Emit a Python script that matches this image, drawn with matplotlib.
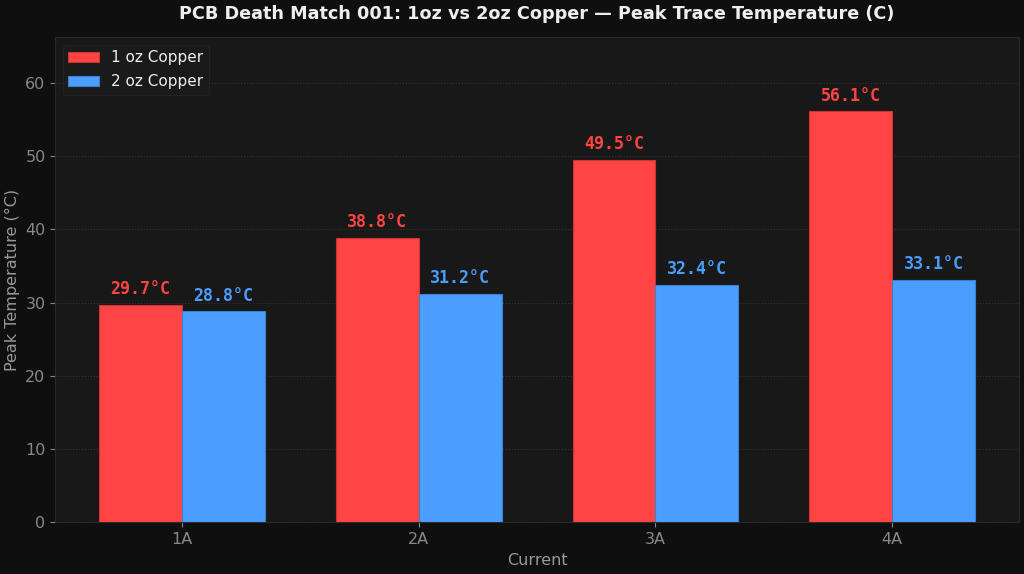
import numpy as np
import matplotlib
matplotlib.use("Agg")
from matplotlib import pyplot as plt

currents = ["1A", "2A", "3A", "4A"]
temp_1oz = [29.7, 38.8, 49.5, 56.1]
temp_2oz = [28.8, 31.2, 32.4, 33.1]

red = "#ff4444"
blue = "#4a9eff"

fig = plt.figure(figsize=(10.24, 5.74), dpi=100, facecolor="#0f0f0f")
ax = fig.add_axes([0.054, 0.09, 0.941, 0.845])
ax.set_facecolor("#181818")

x = np.arange(len(currents))
w = 0.35
b1 = ax.bar(x - w / 2, temp_1oz, w, color=red, edgecolor="#cc3333", linewidth=0.8, label="1 oz Copper", zorder=3)
b2 = ax.bar(x + w / 2, temp_2oz, w, color=blue, edgecolor="#3a80cc", linewidth=0.8, label="2 oz Copper", zorder=3)

# value labels above each bar
for bars, col in ((b1, red), (b2, blue)):
    for b in bars:
        h = b.get_height()
        ax.text(b.get_x() + b.get_width() / 2, h + 0.9, f"{h:.1f}°C", ha="center", va="bottom",
                color=col, fontsize=12, fontweight="bold", family="DejaVu Sans Mono")

ax.set_ylim(0, max(temp_1oz) * 1.18)
ax.set_xticks(x)
ax.set_xticklabels(currents)
ax.tick_params(colors="#888888", labelsize=11.5)
ax.grid(axis="y", color="#333333", linestyle=":", linewidth=0.8, zorder=0)
for s in ax.spines.values():
    s.set_color("#2a2a2a")

ax.set_xlabel("Current", color="#999999", fontsize=11.5)
ax.set_ylabel("Peak Temperature (°C)", color="#999999", fontsize=11.5)
ax.set_title("PCB Death Match 001: 1oz vs 2oz Copper — Peak Trace Temperature (C)",
             color="#eeeeee", fontsize=12.7, fontweight="bold", pad=13)

leg = ax.legend(loc="upper left", fontsize=11, facecolor="#1a1a1a", edgecolor="#222222",
                labelcolor="#eeeeee", framealpha=1, borderpad=0.35, labelspacing=0.6)

fig.savefig("out.png", dpi=100, facecolor=fig.get_facecolor())
